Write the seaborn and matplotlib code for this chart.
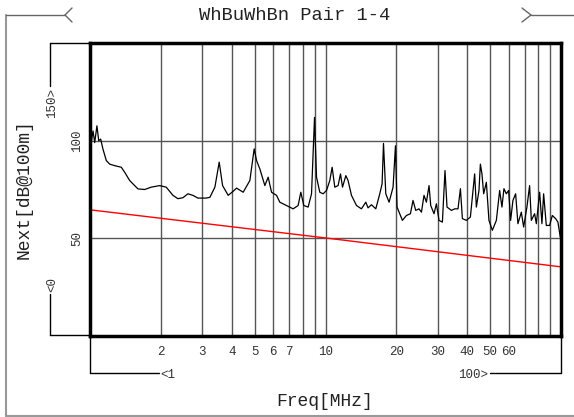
import numpy as np
import pandas as pd
import seaborn as sns
import matplotlib.pyplot as plt
from matplotlib.lines import Line2D
from matplotlib.ticker import FixedLocator, FixedFormatter

# measured NEXT curve (MHz, dB)
freq_mhz = [1.0, 1.01, 1.03, 1.047, 1.07, 1.089, 1.11, 1.135, 1.173, 1.212, 1.273, 1.358, 1.404,
            1.474, 1.598, 1.707, 1.82, 1.976, 2.107, 2.25, 2.362, 2.481, 2.605, 2.735, 2.872,
            3.11, 3.229, 3.391, 3.537, 3.656, 3.862, 4.055, 4.192, 4.472, 4.773, 4.979, 5.097,
            5.264, 5.527, 5.708, 5.901, 6.195, 6.398, 6.831, 7.288, 7.652, 7.855, 8.09, 8.438,
            8.723, 8.982, 9.16, 9.458, 9.768, 10.1, 10.43, 10.67, 10.95, 11.31, 11.58, 11.81,
            12.2, 12.47, 12.89, 13.54, 14.21, 14.83, 15.16, 15.67, 16.35, 17.0, 17.39, 17.63,
            18.03, 18.62, 19.36, 19.82, 20.13, 21.21, 22.06, 22.94, 23.53, 24.16, 24.95, 25.55,
            26.2, 26.82, 27.52, 27.98, 28.89, 29.58, 30.34, 31.36, 32.17, 32.81, 34.25, 35.37,
            36.53, 37.4, 38.13, 39.65, 41.23, 42.99, 43.71, 44.84, 45.46, 46.17, 46.95, 48.2,
            49.44, 51.11, 53.15, 54.89, 56.13, 57.24, 58.6, 59.93, 61.11, 62.5, 64.17, 65.63,
            67.85, 69.39, 71.66, 73.57, 74.82, 77.27, 78.57, 81.14, 82.99, 84.38, 86.62, 89.46,
            91.86, 94.87, 97.03, 99.3]
next_db = [96, 98.3, 105, 99, 107.6, 100, 100.8, 95.7, 89.8, 88, 87.2, 86.4, 83.8,
           79.6, 75.3, 75, 76.2, 77, 76.2, 72, 70.3, 70.8, 72.8, 72, 70.6,
           70.6, 71, 76.2, 89, 77, 72, 74.1, 75.7, 73.6, 79.6, 95.8, 89.8,
           85.5, 77, 81.3, 73.6, 72, 68.5, 66.8, 65.1, 66.8, 73.6, 66.8, 66,
           72.8, 111.9, 81.3, 73.6, 72.8, 74.5, 79.6, 86.4, 76.2, 77, 83, 76.2,
           82.1, 79.6, 72, 66.8, 65.1, 68.5, 65.6, 67.2, 65.1, 72.8, 77.9, 98.6,
           72.8, 68.5, 76.2, 97.4, 66, 59.2, 61.7, 62.6, 69.4, 64.3, 65.1, 63.4,
           72, 68.5, 77, 66.8, 62.6, 67.7, 59.2, 58.3, 84.7, 66, 64.3, 65.1,
           65.1, 75.4, 60.1, 59.2, 60.9, 83, 66, 74.5, 88, 83, 72.8, 78.7,
           59.2, 54.1, 59.2, 74.5, 66, 75.4, 72.8, 74.5, 59.2, 69.4, 72.8, 57.5,
           63.4, 55.8, 66, 77, 59.2, 62.6, 57.5, 73.6, 57.5, 72.8, 56.6, 56.6,
           61.7, 60.1, 58.3, 50.7]

# limit line
limit_freq = [1, 10, 100]
limit_db = [64.6, 50.2, 35.4]

x_grid = [2, 3, 4, 5, 6, 7, 8, 9, 10, 20, 30, 40, 50, 60, 70, 80, 90]
x_labels = ["2", "3", "4", "5", "6", "7", "", "", "10", "20", "30", "40", "50", "60", "", "", ""]
y_grid = [50, 100]

sns.set_style("white")
plt.rcParams["font.family"] = ["Liberation Mono", "DejaVu Sans"]

W, H = 574, 417
fig = plt.figure(figsize=(W / 100, H / 100), dpi=100)

def fx(x):
    return x / W

def fy(y):
    return 1 - y / H

ax = fig.add_axes([fx(90), fy(336), (561 - 90) / W, (336 - 43) / H])

df = pd.DataFrame({"Freq": freq_mhz, "Next": next_db})
lim = pd.DataFrame({"Freq": limit_freq, "Next": limit_db})
sns.lineplot(data=df, x="Freq", y="Next", color="black", linewidth=0.9, estimator=None, sort=False, ax=ax)
sns.lineplot(data=lim, x="Freq", y="Next", color="red", linewidth=1.0, estimator=None, ax=ax)

ax.set_xscale("log")
ax.set_xlim(1, 100)
ax.set_ylim(0, 150)
ax.xaxis.set_major_locator(FixedLocator(x_grid))
ax.xaxis.set_major_formatter(FixedFormatter(x_labels))
ax.xaxis.set_minor_locator(FixedLocator([]))
ax.set_yticks(y_grid)
ax.set_yticklabels([str(v) for v in y_grid], rotation=90, va="center")
ax.grid(True, color="#555555", linewidth=1.0)
ax.tick_params(length=0, labelsize=9, labelcolor="#333333")
ax.tick_params(axis="x", pad=7)
ax.tick_params(axis="y", pad=5)
ax.set_xlabel("")
ax.set_ylabel("")
for s in ax.spines.values():
    s.set_visible(True)
    s.set_color("black")
    s.set_linewidth(2.5)

# decorations in figure pixels
def seg(x0, y0, x1, y1, color="black", lw=1.0):
    fig.add_artist(Line2D([fx(x0), fx(x1)], [fy(y0), fy(y1)], color=color, linewidth=lw))

grey = "#999999"
seg(6, 15, 6, 416, grey, 1.5)
seg(6, 416, 574, 416, grey, 1.5)
seg(6, 15, 65, 15, "#666666")
seg(65, 15, 72, 8, "#666666")
seg(65, 15, 72, 22, "#666666")
seg(531, 15, 574, 15, "#666666")
seg(531, 15, 522, 8, "#666666")
seg(531, 15, 522, 22, "#666666")

# y range bracket
seg(50, 43, 90, 43)
seg(50, 335, 90, 335)
seg(50, 43, 50, 86)
seg(50, 294, 50, 335)
# x range bracket
seg(90, 335, 90, 373)
seg(561, 335, 561, 373)
seg(90, 373, 159, 373)
seg(490, 373, 561, 373)

txt = dict(fontsize=9, color="#333333", ha="center", va="center")
fig.text(fx(52), fy(103), "150>", rotation=90, **txt)
fig.text(fx(52), fy(284), "<0", rotation=90, **txt)
fig.text(fx(168), fy(375), "<1", **txt)
fig.text(fx(473), fy(375), "100>", **txt)

fig.text(fx(295), fy(15), "WhBuWhBn Pair 1-4", fontsize=13.5, color="#222222", ha="center", va="center")
fig.text(fx(325), fy(402), "Freq[MHz]", fontsize=13, color="#222222", ha="center", va="center")
fig.text(fx(24), fy(189), "Next[dB@100m]", fontsize=13, color="#222222", rotation=90, ha="center", va="center")

fig.savefig("out.png", dpi=100)
